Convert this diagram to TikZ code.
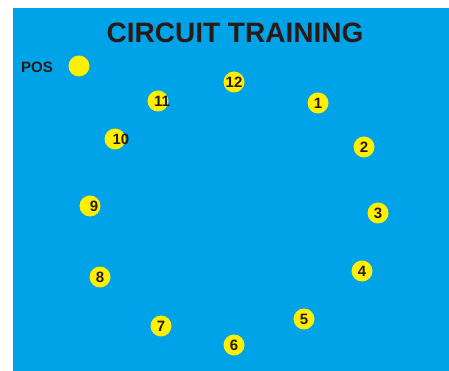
\documentclass[tikz,border=0pt]{standalone}
\usepackage{fontspec}
\setmainfont{Liberation Sans}
\usetikzlibrary{positioning}
\definecolor{poolblue}{RGB}{0,163,232}
\definecolor{spotyellow}{RGB}{255,240,0}
\definecolor{inkbrown}{RGB}{42,26,22}
\tikzset{
    heading/.style={
        inner sep=0pt, anchor=base, text=inkbrown, font=\bfseries\fontsize{28}{28}\selectfont
    },
    poslabel/.style={
        inner sep=0pt, anchor=base west, text=inkbrown, font=\bfseries\fontsize{15}{15}\selectfont
    },
    spot/.style={
        circle, fill=spotyellow, minimum size=21pt, inner sep=0pt
    },
    spotnum/.style={
        inner sep=0pt, text=inkbrown, font=\bfseries\fontsize{15}{15}\selectfont
    }
}

\begin{document}
\begin{tikzpicture}[x=1pt, y=-1pt]
    \useasboundingbox (0,0) rectangle (449,371);
    \fill[poolblue] (13,8) rectangle (449,371);

    \node[heading] (title) at (235,43) {CIRCUIT TRAINING};
    \node[poslabel] (pos) at (21,73) {POS};
    \node[spot] (posdot) at (79,66) {};

    % stations round the circuit
    \node[spot] (st12) at (234,82) {};
    \node[spot] (st1) at (318,103) {};
    \node[spot] (st2) at (364,147) {};
    \node[spot] (st3) at (378,213) {};
    \node[spot] (st4) at (362,271) {};
    \node[spot] (st5) at (304,319) {};
    \node[spot] (st6) at (234,345) {};
    \node[spot] (st7) at (161,326) {};
    \node[spot] (st8) at (100,277) {};
    \node[spot] (st9) at (90,206) {};
    \node[spot] (st10) at (115,139) {};
    \node[spot] (st11) at (158,101) {};

    \node[spotnum] (num12) at (st12) {12};
    \node[spotnum] (num1) at (st1) {1};
    \node[spotnum] (num2) at (st2) {2};
    \node[spotnum] (num3) at (st3) {3};
    \node[spotnum] (num4) at (st4) {4};
    \node[spotnum] (num5) at (st5) {5};
    \node[spotnum] (num6) at (st6) {6};
    \node[spotnum] (num7) at (st7) {7};
    \node[spotnum] (num8) at (st8) {8};
    \node[spotnum, xshift=4pt] (num9) at (st9) {9};
    \node[spotnum, xshift=6pt] (num10) at (st10) {10};
    \node[spotnum, xshift=4pt] (num11) at (st11) {11};
\end{tikzpicture}
\end{document}
